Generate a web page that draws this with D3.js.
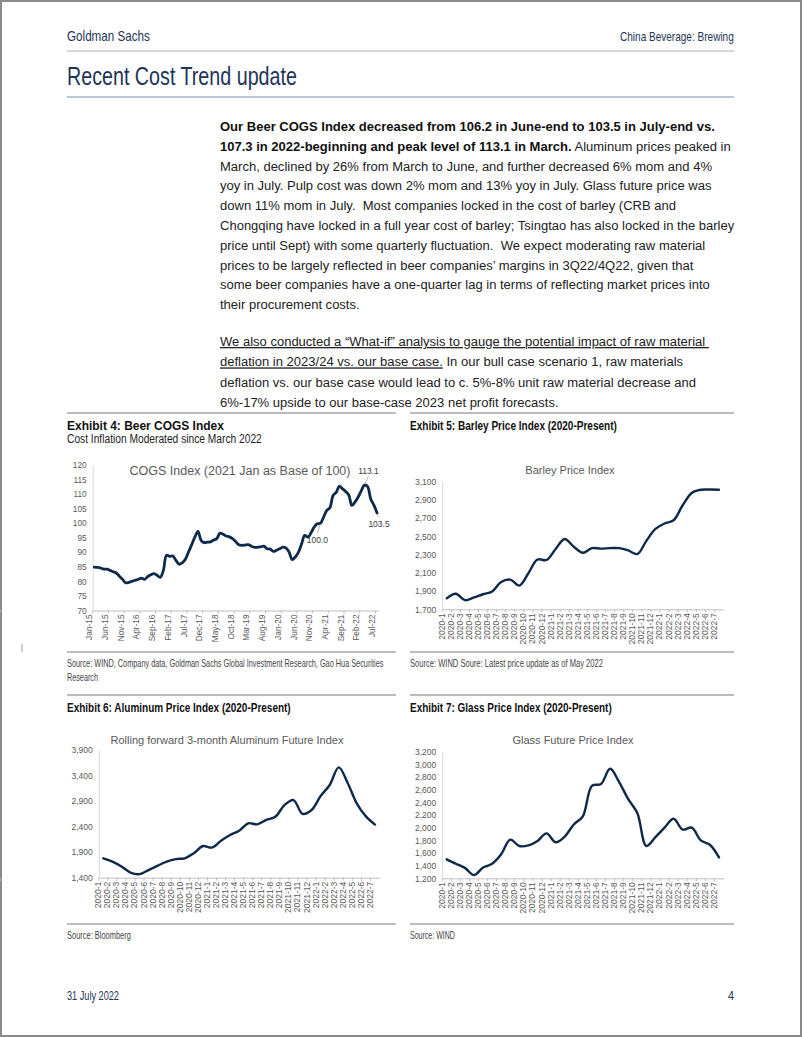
<!DOCTYPE html>
<html><head><meta charset="utf-8">
<script src="https://cdn.jsdelivr.net/npm/d3@7"></script>
<style>
body{margin:0;background:#fff;}
svg{display:block;}
.cond{font-family:"Liberation Sans",Arial,sans-serif;}
.body{font-family:"Liberation Sans",Arial,sans-serif;fill:#222;}
.tick text{font-family:"Liberation Sans",Arial,sans-serif;fill:#595959;}
</style></head>
<body>
<svg id="pg" width="802" height="1037"></svg>
<script>
// ---------- DATA ----------
const cogsValues = [84.9,84.8,84.6,84.2,84.2,83.8,83.3,82.9,81.8,80.7,79.5,79.7,80.0,80.4,80.7,81.1,80.7,81.6,82.3,82.7,82.1,81.4,83.8,89.0,88.6,88.7,87.2,85.9,86.4,87.6,90.1,92.6,95.2,97.2,94.1,93.3,93.5,93.6,94.2,94.7,96.6,96.2,95.6,95.3,94.7,93.7,92.6,92.4,92.5,92.6,92.1,91.7,91.7,91.9,92.1,91.2,91.1,90.3,90.7,91.2,91.8,91.5,90.1,87.5,88.4,90.1,92.9,95.8,95.2,96.7,98.7,99.8,100.0,102.1,104.4,105.3,109.5,110.6,112.7,111.8,110.9,109.7,106.1,107.3,109.0,111.2,113.1,112.6,108.3,106.2,103.5];
const cogsTickLabels = ["Jan-15","Jun-15","Nov-15","Apr-16","Sep-16","Feb-17","Jul-17","Dec-17","May-18","Oct-18","Mar-19","Aug-19","Jan-20","Jun-20","Nov-20","Apr-21","Sep-21","Feb-22","Jul-22"];
const cogsYTicks = [70,75,80,85,90,95,100,105,110,115,120];
const cogsNotes = [{i:72,label:"100.0"},{i:86,label:"113.1"},{i:90,label:"103.5"}];

const months = ["2020-1","2020-2","2020-3","2020-4","2020-5","2020-6","2020-7","2020-8","2020-9","2020-10","2020-11","2020-12","2021-1","2021-2","2021-3","2021-4","2021-5","2021-6","2021-7","2021-8","2021-9","2021-10","2021-11","2021-12","2022-1","2022-2","2022-3","2022-4","2022-5","2022-6","2022-7"];
const barleyValues = [1820,1870,1800,1830,1865,1895,2000,2025,1960,2095,2245,2240,2360,2470,2385,2320,2370,2365,2370,2370,2345,2305,2450,2580,2640,2675,2840,2975,3010,3012,3010];
const barleyYTicks = [1700,1900,2100,2300,2500,2700,2900,3100];
const aluminumValues = [1780,1715,1620,1500,1470,1550,1635,1715,1765,1780,1880,2020,1990,2125,2235,2320,2465,2445,2530,2595,2820,2920,2650,2725,3000,3215,3560,3250,2850,2600,2440];
const aluminumYTicks = [1400,1900,2400,2900,3400,3900];
const glassValues = [1500,1430,1365,1250,1370,1430,1580,1810,1710,1720,1790,1910,1770,1860,2050,2180,2660,2690,2930,2720,2450,2230,1710,1850,2000,2140,1970,2000,1800,1730,1530];
const glassYTicks = [1200,1400,1600,1800,2000,2200,2400,2600,2800,3000,3200];

const bodyLines = [
 [["b","Our Beer COGS Index decreased from 106.2 in June-end to 103.5 in July-end vs."]],
 [["b","107.3 in 2022-beginning and peak level of 113.1 in March."],["r"," Aluminum prices peaked in"]],
 [["r","March, declined by 26% from March to June, and further decreased 6% mom and 4%"]],
 [["r","yoy in July. Pulp cost was down 2% mom and 13% yoy in July. Glass future price was"]],
 [["r","down 11% mom in July.  Most companies locked in the cost of barley (CRB and"]],
 [["r","Chongqing have locked in a full year cost of barley; Tsingtao has also locked in the barley"]],
 [["r","price until Sept) with some quarterly fluctuation.  We expect moderating raw material"]],
 [["r","prices to be largely reflected in beer companies’ margins in 3Q22/4Q22, given that"]],
 [["r","some beer companies have a one-quarter lag in terms of reflecting market prices into"]],
 [["r","their procurement costs."]]
];
const bodyLines2 = [
 [["u","We also conducted a “What-if” analysis to gauge the potential impact of raw material "]],
 [["u","deflation in 2023/24 vs. our base case."],["r"," In our bull case scenario 1, raw materials"]],
 [["r","deflation vs. our base case would lead to c. 5%-8% unit raw material decrease and"]],
 [["r","6%-17% upside to our base-case 2023 net profit forecasts."]]
];

// ---------- PAGE ----------
const svg = d3.select("#pg");
const navy = "#1d3557";
svg.append("rect").attr("x",1).attr("y",1).attr("width",800).attr("height",1035).attr("fill","#fff").attr("stroke","#8a8a8a").attr("stroke-width",2);

// condensed text: horizontally scaled to the width measured on the reference
function ctext(x,y,str,fs,weight,fill,width,anchor){
  const g = svg.append("g");
  const t = g.append("text").attr("class","cond").attr("x",0).attr("y",0).attr("font-size",fs)
    .attr("font-weight",weight||"normal").attr("fill",fill||"#111").text(str);
  const nat = t.node().getComputedTextLength();
  const w = width || nat*0.82;
  const sx = w/nat;
  const left = anchor==="end" ? x - w : x;
  g.attr("transform",`translate(${left},${y}) scale(${sx},1)`);
  return t;
}
ctext(67,41,"Goldman Sachs",14,"normal",navy,83);
ctext(734,41,"China Beverage: Brewing",12,"normal",navy,114,"end");
svg.append("line").attr("x1",67).attr("x2",734).attr("y1",51).attr("y2",51).attr("stroke","#b0b0b0").attr("stroke-width",1.2);
ctext(67,85,"Recent Cost Trend update",25,"normal",navy,230);
svg.append("line").attr("x1",67).attr("x2",734).attr("y1",97).attr("y2",97).attr("stroke","#7d8fa6").attr("stroke-width",1.2);

// body text
function writeLines(lines, y0, dy, fs){
  lines.forEach((ln,k)=>{
    const t = svg.append("text").attr("class","body").attr("x",220).attr("y",y0+k*dy).attr("font-size",fs).attr("xml:space","preserve");
    ln.forEach(([s,str])=>{
      const ts = t.append("tspan").text(str);
      if(s==="b") ts.attr("font-weight","bold").attr("fill","#111");
      if(s==="u") ts.attr("text-decoration","underline");
    });
  });
}
const probe = svg.append("text").attr("class","body").attr("font-size",14).text(bodyLines[5][0][1]);
const w14 = probe.node().getComputedTextLength(); probe.remove();
const fsBody = 14*515/w14;
writeLines(bodyLines,131,19.8,fsBody);
writeLines(bodyLines2,346,20.4,fsBody);

function hline(x1,x2,y){svg.append("line").attr("x1",x1).attr("x2",x2).attr("y1",y).attr("y2",y).attr("stroke","#a6a6a6").attr("stroke-width",1.5);}
hline(67,396,413); hline(410,734,413);
ctext(67,430,"Exhibit 4: Beer COGS Index",13,"bold","#111",157);
ctext(67,443,"Cost Inflation Moderated since March 2022",12.5,"normal","#222",195);
ctext(410,430,"Exhibit 5: Barley Price Index (2020-Present)",13,"bold","#111",207);
hline(67,396,652); hline(410,734,652);
ctext(67,667,"Source: WIND, Company data, Goldman Sachs Global Investment Research, Gao Hua Securities",10,"normal","#444",317);
ctext(67,681,"Research",10,"normal","#444",31);
ctext(410,667,"Source: WIND Soure: Latest price update as of May 2022",10,"normal","#444",193);
hline(67,396,695); hline(410,734,695);
ctext(67,712,"Exhibit 6: Aluminum Price Index (2020-Present)",13,"bold","#111",224);
ctext(410,712,"Exhibit 7: Glass Price Index (2020-Present)",13,"bold","#111",202);
hline(67,396,924); hline(410,734,924);
ctext(67,939,"Source: Bloomberg",10,"normal","#444",64);
ctext(410,939,"Source: WIND",10,"normal","#444",45);
ctext(67,1000,"31 July 2022",12.5,"normal",navy,52);
ctext(734,1000,"4",12.5,"normal",navy,6,"end");
svg.append("line").attr("x1",22).attr("x2",22).attr("y1",644).attr("y2",652).attr("stroke","#999").attr("stroke-width",1);

// ---------- CHART FUNCTION ----------
function lineChart(o){
  const g = svg.append("g");
  const n = o.values.length;
  const x = d3.scalePoint().domain(d3.range(n)).range([o.x0,o.x1]).padding(0.5);
  const y = d3.scaleLinear().domain(o.yDomain).range([o.y1,o.y0]);
  const ya = g.append("g").attr("transform",`translate(${o.x0},0)`)
    .call(d3.axisLeft(y).tickValues(o.yTicks).tickSize(0).tickPadding(o.yPad||6).tickFormat(o.yFmt));
  ya.select(".domain").attr("stroke","#d9d9d9");
  ya.selectAll("text").attr("font-size",o.fs||8.5);
  const xa = g.append("g").attr("transform",`translate(0,${o.y1})`)
    .call(d3.axisBottom(x).tickValues(o.tickIdx).tickSize(0).tickPadding(4).tickFormat(i=>o.tickLabels[o.tickIdx.indexOf(i)]));
  xa.select(".domain").attr("stroke","#bfbfbf");
  xa.selectAll("text").attr("font-size",o.fs||8.5).attr("transform","rotate(-90)")
    .attr("text-anchor","end").attr("dx","-4").attr("dy","-0.3em").attr("y",0).attr("x",0);
  const st = x.step();
  g.selectAll(".tm").data(o.tickMarks).enter().append("line")
    .attr("x1",i=>x(i)-st/2).attr("x2",i=>x(i)-st/2).attr("y1",o.y1).attr("y2",o.y1+3).attr("stroke","#bfbfbf");
  g.append("text").attr("x",o.tx).attr("y",o.ty).attr("text-anchor","middle")
    .attr("font-family","Liberation Sans, Arial, sans-serif").attr("font-size",o.tfs||12).attr("fill","#595959").text(o.title);
  const line = d3.line().x((d,i)=>x(i)).y(d=>y(d)).curve(d3.curveCatmullRom.alpha(0.5));
  g.append("path").datum(o.values).attr("d",line).attr("fill","none").attr("stroke","#0e2a4a")
    .attr("stroke-width",o.sw||2.4).attr("stroke-linejoin","round").attr("stroke-linecap","round");
  return {g,x,y};
}

// Exhibit 4
const cogsTickIdx = cogsTickLabels.map((d,k)=>k*5);
const c4 = lineChart({values:cogsValues,x0:92.7,x1:378.6,y0:465,y1:610.5,yDomain:[70,120],yTicks:cogsYTicks,yFmt:d3.format("d"),
  tickIdx:cogsTickIdx,tickLabels:cogsTickLabels,tickMarks:cogsTickIdx,title:"COGS Index (2021 Jan as  Base of 100)",tx:240,ty:475,tfs:12.5,sw:2.8,fs:8.3});
const noteOff = {"100.0":[-3,18],"113.1":[4,-11],"103.5":[2,12]};
cogsNotes.forEach(nt=>{
  const px=c4.x(nt.i), py=c4.y(cogsValues[nt.i]); const off=noteOff[nt.label];
  c4.g.append("line").attr("x1",px+off[0]*0.2).attr("y1",py+(off[1]>0?2:-2)).attr("x2",px+off[0]).attr("y2",py+off[1]-(off[1]>0?8:-2)).attr("stroke","#a6a6a6").attr("stroke-width",0.8);
  c4.g.append("text").attr("x",px+off[0]).attr("y",py+off[1]+(off[1]>0?2:0)).attr("text-anchor","middle")
    .attr("font-family","Liberation Sans, Arial, sans-serif").attr("font-size",8.5).attr("fill","#404040").text(nt.label);
});

const allIdx = d3.range(months.length);
lineChart({values:barleyValues,x0:442.2,x1:723.5,y0:481.5,y1:609.3,yDomain:[1700,3100],yTicks:barleyYTicks,yFmt:d3.format(","),
  tickIdx:allIdx,tickLabels:months,tickMarks:allIdx.concat([months.length]),title:"Barley Price Index",tx:570,ty:474,tfs:11});
lineChart({values:aluminumValues,x0:98.8,x1:379.5,y0:750,y1:877.7,yDomain:[1400,3900],yTicks:aluminumYTicks,yFmt:d3.format(","),
  tickIdx:allIdx,tickLabels:months,tickMarks:allIdx.concat([months.length]),title:"Rolling forward 3-month Aluminum Future Index",tx:227,ty:744,tfs:11});
lineChart({values:glassValues,x0:442.2,x1:723.5,y0:751.7,y1:878.3,yDomain:[1200,3200],yTicks:glassYTicks,yFmt:d3.format(","),
  tickIdx:allIdx,tickLabels:months,tickMarks:allIdx.concat([months.length]),title:"Glass Future Price Index",tx:573,ty:744,tfs:11});
</script>
</body></html>
